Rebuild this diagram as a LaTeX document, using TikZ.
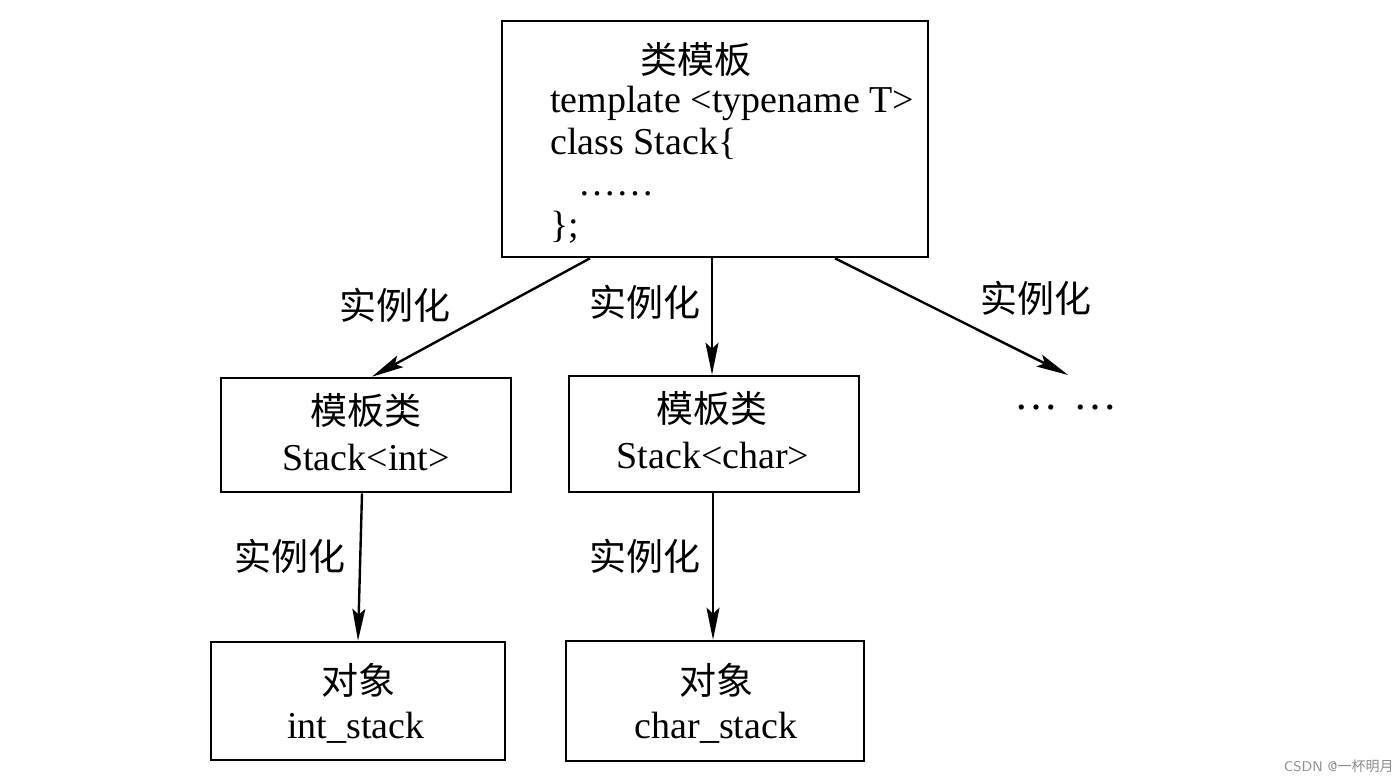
\documentclass[tikz,border=0pt]{standalone}
\usepackage{fontspec}
\setmainfont{Liberation Serif}
\newfontfamily\cjk{Noto Sans CJK SC}
\usetikzlibrary{arrows.meta}
\begin{document}
\begin{tikzpicture}[x=0.5pt,y=-0.5pt,
  box/.style={draw,line width=1.3pt,inner sep=0pt},
  lat/.style={font=\fontsize{19}{21}\selectfont,inner sep=0pt},
  zh/.style={font=\cjk\fontsize{18.5}{20}\selectfont,inner sep=0pt},
  arr/.style={line width=1.2pt,-{Stealth[length=16pt,width=6.5pt,inset=3pt]}},
  wm/.style={font=\fontsize{7}{8}\selectfont\sffamily,text=black!45,inner sep=0pt}]
\useasboundingbox[fill=white] (0,0) rectangle (1400,779);
% boxes
\node[box,minimum width=213pt,minimum height=118pt] (tpl) at (715,139) {};
\node[box,minimum width=145pt,minimum height=57pt] (ci) at (366,435) {};
\node[box,minimum width=145pt,minimum height=58pt] (cc) at (714,434) {};
\node[box,minimum width=147pt,minimum height=59pt] (oi) at (358,701) {};
\node[box,minimum width=149pt,minimum height=60pt] (oc) at (715,701) {};
% template box text
\node[zh] (t0) at (696,59) {类模板};
\node[lat,anchor=base west] (t1) at (550,113) {template <typename T>};
\node[lat,anchor=base west] (t2) at (550,155) {class Stack\{};
\node[lat,anchor=base west] (t3) at (578,196) {……};
\node[lat,anchor=base west] (t4) at (550,238) {\};};
% class boxes
\node[zh] (c1a) at (366,410) {模板类};
\node[lat,anchor=base] (c1b) at (366,471) {Stack<int>};
\node[zh] (c2a) at (712,408) {模板类};
\node[lat,anchor=base] (c2b) at (713,469) {Stack<char>};
% object boxes
\node[zh] (o1a) at (358,680) {对象};
\node[lat,anchor=base] (o1b) at (356,738) {int\_stack};
\node[zh] (o2a) at (716,680) {对象};
\node[lat,anchor=base] (o2b) at (716,738) {char\_stack};
% ellipsis target
\node[lat,anchor=base,font=\fontsize{22}{24}\selectfont] (more) at (1066,410) {…\,\,…};
\coordinate (moretip) at (1068,375);
% arrows
\draw[arr] (tpl.south -| 590,0) -- (ci.north -| 372,0);
\draw[arr] (tpl.south -| 712,0) -- (cc.north -| 712,0);
\draw[arr] (tpl.south -| 835,0) -- (moretip);
\draw[arr] (ci.south -| 362,0) -- (oi.north -| 358,0);
\draw[arr] (cc.south -| 713,0) -- (oc.north -| 713,0);
% arrow labels
\node[zh] (l1) at (395,305) {实例化};
\node[zh] (l2) at (645,302) {实例化};
\node[zh] (l3) at (1036,298) {实例化};
\node[zh] (l4) at (290,556) {实例化};
\node[zh] (l5) at (645,556) {实例化};
% watermark
\node[wm,anchor=east] (wmk) at (1394,766) {CSDN @{\cjk 一杯明月}};
\end{tikzpicture}
\end{document}
